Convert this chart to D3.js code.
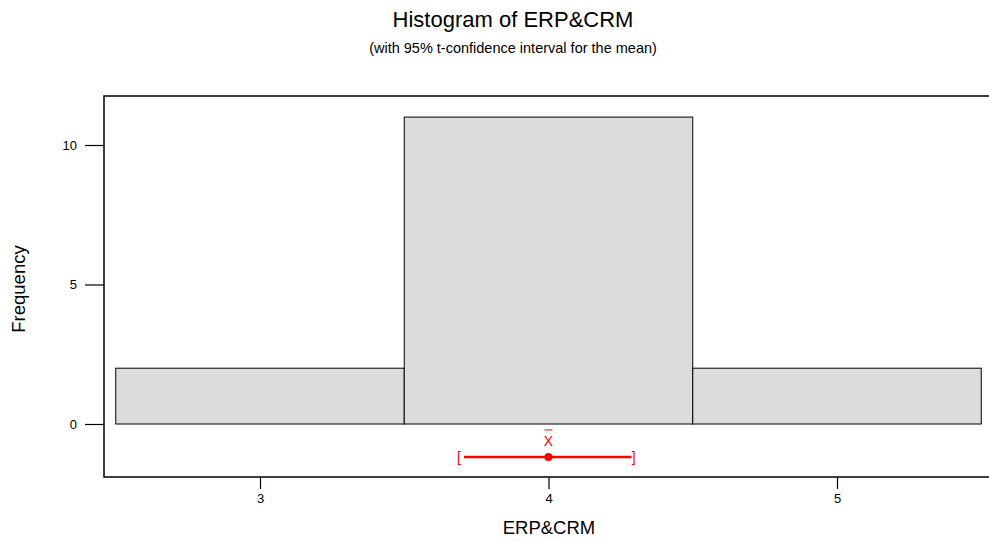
<!DOCTYPE html>
<html><head><meta charset="utf-8">
<script src="https://cdn.jsdelivr.net/npm/d3@7"></script>
<style>body{margin:0;background:#fff}svg{display:block}text{font-family:"Liberation Sans",Arial,sans-serif}</style>
</head><body>
<script>
const binStarts = [2.5, 3.5, 4.5];
const binEnds = [3.5, 4.5, 5.5];
const frequencies = [2, 11, 2];
const xTicks = [3, 4, 5];
const yTicks = [0, 5, 10];
const ciMean = [4.0];
const ciLower = [3.69];
const ciUpper = [4.295];
const ciLevel = [-1.18];

const W = 989, H = 542;
const svg = d3.select("body").append("svg").attr("width", W).attr("height", H);
const x = d3.scaleLinear().domain([3, 5]).range([260, 837]);
const y = d3.scaleLinear().domain([0, 10]).range([424, 145]);
const frameTop = 96, frameBottom = 477, frameLeft = 104;

svg.append("text").attr("x", 513).attr("y", 27).attr("text-anchor", "middle")
  .attr("font-size", 22).attr("fill", "#000").text("Histogram of ERP&CRM");
svg.append("text").attr("x", 513).attr("y", 53).attr("text-anchor", "middle")
  .attr("font-size", 14.5).attr("fill", "#000").text("(with 95% t-confidence interval for the mean)");

// bars
const bins = binStarts.map((s, i) => ({s, e: binEnds[i], f: frequencies[i]}));
svg.selectAll("rect.bar").data(bins).enter().append("rect").attr("class", "bar")
  .attr("x", d => x(d.s)).attr("y", d => y(d.f))
  .attr("width", d => x(d.e) - x(d.s)).attr("height", d => y(0) - y(d.f))
  .attr("fill", "#dcdcdc").attr("stroke", "#000").attr("stroke-width", 1);

// frame
svg.append("path").attr("d", `M${W+5},${frameTop}H${frameLeft}V${frameBottom}H${W+5}`)
  .attr("fill", "none").attr("stroke", "#000").attr("stroke-width", 1.5);

// y axis
const yAxis = d3.axisLeft(y).tickValues(yTicks).tickSize(19).tickPadding(8).tickFormat(d3.format("d"));
const gy = svg.append("g").attr("transform", `translate(${frameLeft},0)`).call(yAxis);
gy.attr("font-size", 13);
gy.select(".domain").remove();
gy.selectAll("text").style("font-size", "13px").attr("fill", "#000");
gy.selectAll("line").attr("stroke", "#000").attr("stroke-width", 1.2);

// x axis
const xAxis = d3.axisBottom(x).tickValues(xTicks).tickSize(12).tickPadding(5).tickFormat(d3.format("d"));
const gx = svg.append("g").attr("transform", `translate(0,${frameBottom})`).call(xAxis);
gx.attr("font-size", 13);
gx.select(".domain").remove();
gx.selectAll("text").style("font-size", "13px").attr("fill", "#000");
gx.selectAll("line").attr("stroke", "#000").attr("stroke-width", 1.2);

svg.append("text").attr("x", 549).attr("y", 534).attr("text-anchor", "middle")
  .attr("font-size", 18.5).attr("fill", "#000").text("ERP&CRM");
svg.append("text").attr("transform", "translate(25,289) rotate(-90)").attr("text-anchor", "middle")
  .attr("font-size", 18.5).attr("fill", "#000").text("Frequency");

// CI
const red = "#ff0000";
const cy = y(ciLevel[0]);
svg.append("line").attr("x1", x(ciLower[0]) + 5).attr("x2", x(ciUpper[0]) - 2)
  .attr("y1", cy).attr("y2", cy).attr("stroke", red).attr("stroke-width", 2.5);
svg.append("text").attr("x", x(ciLower[0])).attr("y", cy + 5).attr("text-anchor", "middle")
  .attr("font-size", 14).attr("fill", red).text("[");
svg.append("text").attr("x", x(ciUpper[0])).attr("y", cy + 5).attr("text-anchor", "middle")
  .attr("font-size", 14).attr("fill", red).text("]");
svg.append("circle").attr("cx", x(ciMean[0])).attr("cy", cy).attr("r", 4).attr("fill", red);
svg.append("text").attr("x", x(ciMean[0])).attr("y", cy - 11).attr("text-anchor", "middle")
  .attr("font-size", 14).attr("fill", red).text("X");
svg.append("line").attr("x1", x(ciMean[0]) - 4).attr("x2", x(ciMean[0]) + 4)
  .attr("y1", cy - 27).attr("y2", cy - 27).attr("stroke", red).attr("stroke-width", 1);
</script>
</body></html>
